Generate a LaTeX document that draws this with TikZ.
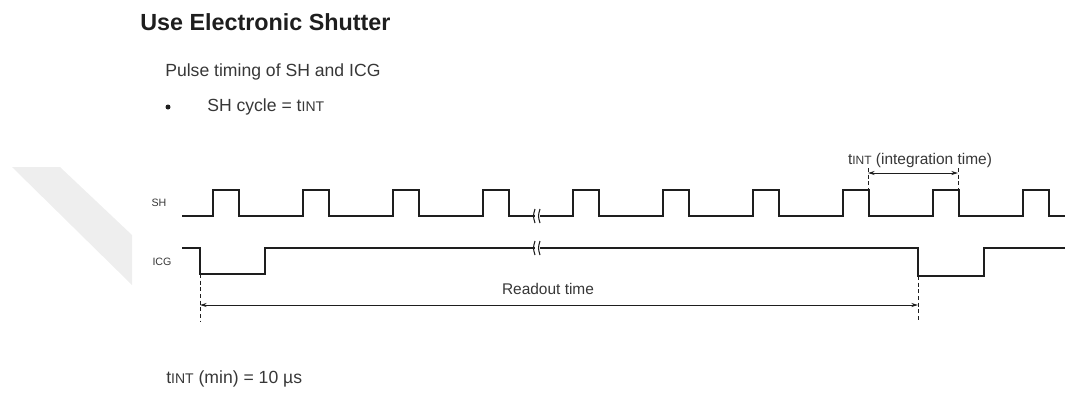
\documentclass[tikz,border=0pt]{standalone}
\usepackage{fontspec}
\setmainfont{Liberation Sans}
\usetikzlibrary{arrows.meta}
\definecolor{ink}{RGB}{30, 30, 30}
\definecolor{txt}{RGB}{55, 55, 55}
\definecolor{wmark}{RGB}{238, 238, 238}
\newcommand{\tsub}[1]{t{\fontsize{#1}{#1}\selectfont INT}}

\begin{document}
\begin{tikzpicture}[x=0.75pt, y=-0.75pt]
    \useasboundingbox (0,0) rectangle (1065,394);
    \fill[wmark] (12,167) -- (60,167) -- (132,235) -- (132,285) -- cycle;

    % texts
    \node[font = \fontsize{17.5}{20}\selectfont\bfseries, text = ink, anchor = west, inner sep = 0] (title) at (140,22) {Use Electronic Shutter};
    \node[font = \fontsize{13.2}{15}\selectfont, text = txt, anchor = west, inner sep = 0] (pulse) at (165,72) {Pulse timing of SH and ICG};
    \fill[ink] (168,107) circle (2.5) coordinate (dot);
    \node[font = \fontsize{13.2}{15}\selectfont, text = txt, anchor = west, inner sep = 0] (cycle) at (207,107) {SH cycle = \tsub{10.5}};
    \node[font = \fontsize{13.2}{15}\selectfont, text = txt, anchor = west, inner sep = 0] (min) at (166,379) {\tsub{10.5} (min) = 10 \textmu s};

    \node[font = \fontsize{8}{9}\selectfont, text = txt, inner sep = 0] (sh) at (159,203) {SH};
    \node[font = \fontsize{8}{9}\selectfont, text = txt, inner sep = 0] (icg) at (162,262) {ICG};

    % waveforms
    \draw[line width = 1.7pt, ink] (182,216) \foreach \k in {0,...,9} {-- ({213+90*\k},216) -- ({213+90*\k},190) -- ({239+90*\k},190) -- ({239+90*\k},216)} -- (1065,216);
    \draw[line width = 1.7pt, ink] (182,248) -- (200,248) -- (200,274) -- (265,274) -- (265,248) -- (918,248) -- (918,276) -- (984,276) -- (984,248) -- (1065,248);

    % breaks
    \foreach \y in {216,248} {
        \fill[white] (534.5,{\y-6}) rectangle (539.5,{\y+6});
        \draw[ink, line width = 0.8pt] (535,{\y-7}) .. controls (533,\y) .. (535,{\y+7});
        \draw[ink, line width = 0.8pt] (540,{\y-7}) .. controls (538,\y) .. (540,{\y+7});
    }

    % readout time
    \coordinate (r1) at (200,305);
    \coordinate (r2) at (918,305);
    \draw[densely dashed, ink, line width = 0.6pt] (200,274) -- (200,321);
    \draw[densely dashed, ink, line width = 0.6pt] (918,276) -- (918,321);
    \draw[{Stealth[length=5pt,width=3pt]}-{Stealth[length=5pt,width=3pt]}, ink, line width = 0.7pt] (r1) -- (r2);
    \node[font = \fontsize{11.6}{14}\selectfont, text = txt, inner sep = 0] (readout) at (548,289) {Readout time};

    % integration time
    \coordinate (i1) at (868,173);
    \coordinate (i2) at (958,173);
    \draw[densely dashed, ink, line width = 0.6pt] (868,168) -- (868,190);
    \draw[densely dashed, ink, line width = 0.6pt] (958,168) -- (958,190);
    \draw[{Stealth[length=5pt,width=3pt]}-{Stealth[length=5pt,width=3pt]}, ink, line width = 0.7pt] (i1) -- (i2);
    \node[font = \fontsize{11.6}{13}\selectfont, text = txt, inner sep = 0] (integ) at (920,160) {\tsub{9} (integration time)};
\end{tikzpicture}
\end{document}
